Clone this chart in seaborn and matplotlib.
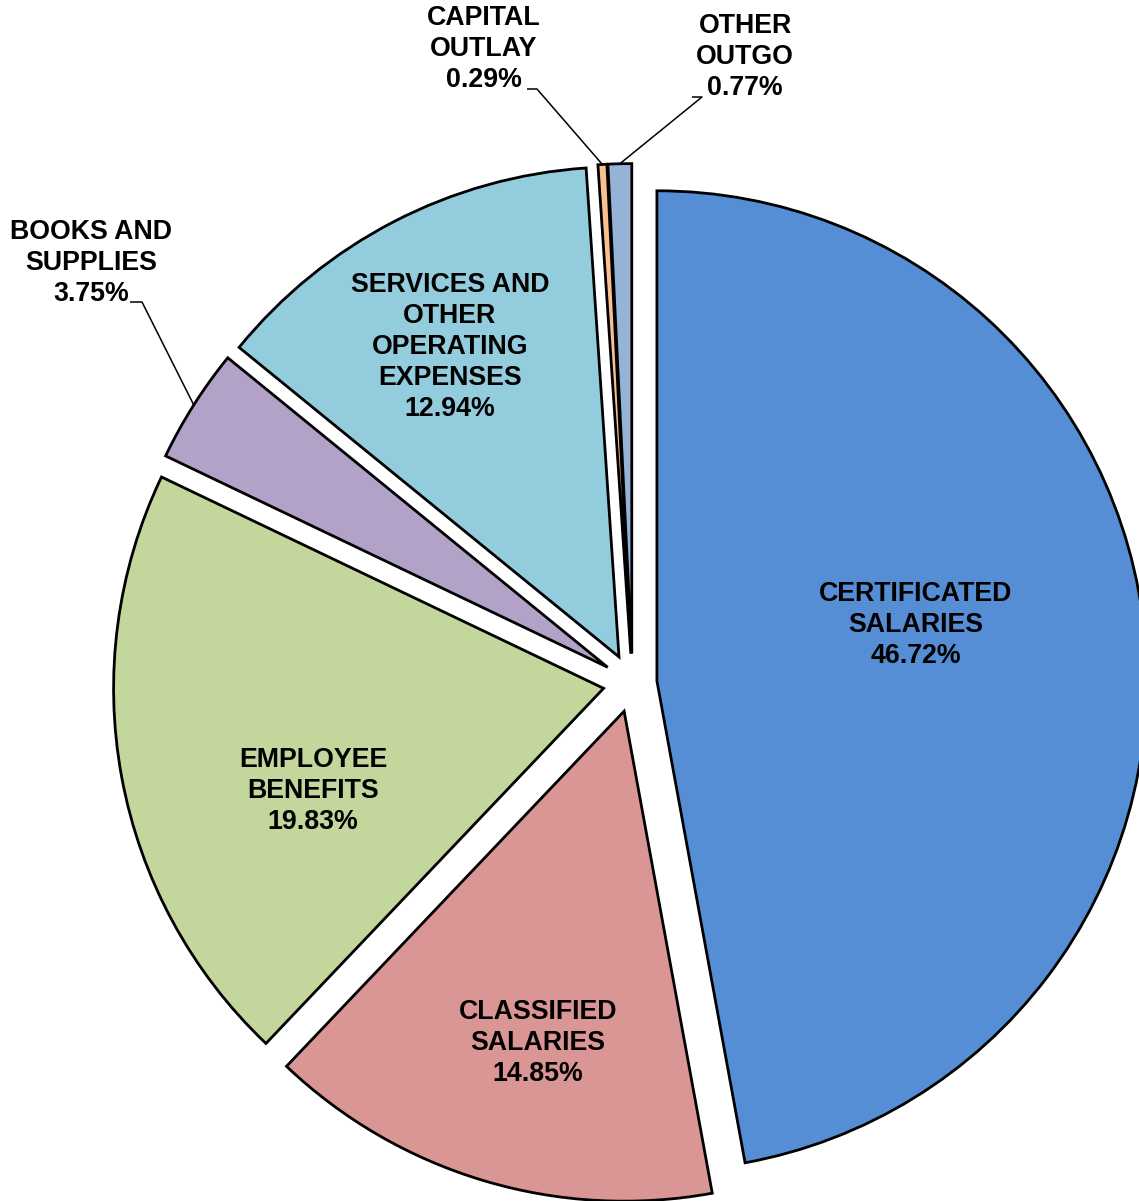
import numpy as np
import matplotlib
matplotlib.use("Agg")
import matplotlib.pyplot as plt
import seaborn as sns

# -----------------------------
# Data
# -----------------------------
categories = [
    "CERTIFICATED\nSALARIES",
    "CLASSIFIED\nSALARIES",
    "EMPLOYEE\nBENEFITS",
    "BOOKS AND\nSUPPLIES",
    "SERVICES AND\nOTHER\nOPERATING\nEXPENSES",
    "CAPITAL\nOUTLAY",
    "OTHER\nOUTGO",
]
shares = [46.72, 14.85, 19.83, 3.75, 12.94, 0.29, 0.77]
colors = ["#558ED5", "#D99694", "#C3D69B", "#B3A2C7", "#93CDDD", "#FAC090", "#95B3D7"]

# -----------------------------
# Layout (pixel coords, y down)
# -----------------------------
W, H = 1139, 1201
explode_frac = [0.05, 0.06, 0.06, 0.06, 0.06, 0.06, 0.06]
center_px = (632.5, 683)
radius_px = 490

inside_xy = {0: (916, 625), 1: (538, 1043), 2: (313, 791), 4: (450, 347)}
outside_xy = {3: (91, 263), 5: (484, 49), 6: (745, 57)}
# leader line elbows: (start, elbow)
leader = {3: ((130, 302), (142, 302)),
          5: ((527, 89), (537, 89)),
          6: ((692, 97), (702, 97))}

sns.set_theme(style="white")
plt.rcParams["font.family"] = ["Liberation Sans", "DejaVu Sans"]

fig = plt.figure(figsize=(W / 100, H / 100), dpi=100)
ax = fig.add_axes([0, 0, 1, 1])

# pie explode is absolute, so scale by radius
wedges, _ = ax.pie(
    shares,
    colors=sns.color_palette(colors),
    explode=[e * radius_px for e in explode_frac],
    startangle=90,
    counterclock=False,
    center=(center_px[0], H - center_px[1]),
    radius=radius_px,
    wedgeprops=dict(edgecolor="black", linewidth=2.0),
)

ax.set_xlim(0, W)
ax.set_ylim(0, H)
ax.set_aspect("equal")
ax.axis("off")

txt = dict(ha="center", va="center", fontsize=19.3, fontweight="bold",
           color="black", linespacing=1.25)

for i, (name, val) in enumerate(zip(categories, shares)):
    label = f"{name}\n{val:.2f}%"
    if i in inside_xy:
        x, y = inside_xy[i]
    else:
        x, y = outside_xy[i]
        w = wedges[i]
        mid = np.deg2rad((w.theta1 + w.theta2) / 2)
        tip = (w.center[0] + w.r * np.cos(mid), w.center[1] + w.r * np.sin(mid))
        (x0, y0), (x1, y1) = leader[i]
        ax.plot([x0, x1, tip[0]], [H - y0, H - y1, tip[1]],
                color="black", linewidth=1.1, solid_capstyle="butt")
    ax.text(x, H - y, label, **txt)

fig.savefig("out.png", dpi=100)
